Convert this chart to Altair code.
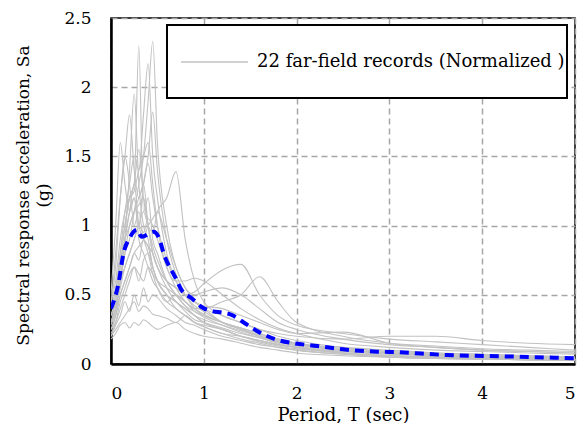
import altair as alt
import pandas as pd

# Periods (sec) at which the individual record spectra are read
periods = [0, 0.05, 0.1, 0.15, 0.2, 0.25, 0.3, 0.35, 0.4, 0.45, 0.5, 0.6, 0.7, 0.8,
           0.9, 1.0, 1.2, 1.4, 1.6, 1.8, 2.0, 2.5, 3.0, 3.5, 4.0, 4.5, 5.0]

r01 = [0.35,0.45,0.6,0.8,0.9,1.1,1.3,1.5,1.9,2.33,1.6,1.0,0.7,0.55,0.45,0.4,0.3,0.25,0.2,0.16,0.13,0.09,0.07,0.06,0.05,0.04,0.035]
r02 = [0.3,0.4,0.7,1.0,1.2,1.3,2.3,1.1,1.2,0.9,0.8,0.6,0.5,0.42,0.35,0.3,0.25,0.2,0.17,0.14,0.12,0.08,0.06,0.05,0.04,0.035,0.03]
r03 = [0.4,0.5,0.8,1.1,1.3,1.5,1.4,1.8,2.17,1.5,1.2,0.8,0.6,0.5,0.42,0.38,0.3,0.26,0.2,0.17,0.15,0.1,0.08,0.07,0.06,0.05,0.045]
r04 = [0.25,0.35,0.6,0.9,1.4,1.95,1.3,1.0,0.9,0.7,0.6,0.5,0.4,0.35,0.3,0.27,0.22,0.18,0.15,0.12,0.1,0.07,0.05,0.04,0.035,0.03,0.025]
r05 = [0.45,0.7,1.2,1.5,1.8,1.4,1.2,1.3,1.0,0.8,0.7,0.55,0.45,0.4,0.35,0.32,0.28,0.24,0.2,0.17,0.14,0.1,0.08,0.065,0.055,0.05,0.045]
r06 = [0.3,0.4,0.6,0.9,1.1,1.2,1.0,1.3,1.5,1.82,1.4,0.9,0.65,0.5,0.4,0.35,0.3,0.25,0.21,0.18,0.15,0.1,0.08,0.07,0.06,0.05,0.045]
r07 = [0.35,0.45,0.6,0.7,0.8,0.9,1.0,1.1,1.0,0.95,1.1,1.2,1.39,0.9,0.6,0.45,0.35,0.3,0.25,0.2,0.17,0.12,0.09,0.08,0.07,0.06,0.05]
r08 = [0.5,1.0,1.6,1.3,1.1,1.2,0.9,0.8,0.7,0.6,0.55,0.45,0.4,0.35,0.3,0.27,0.22,0.2,0.17,0.14,0.12,0.08,0.06,0.05,0.04,0.035,0.03]
r09 = [0.3,0.35,0.5,0.6,0.7,0.8,0.75,0.9,0.85,0.8,0.7,0.6,0.55,0.5,0.52,0.58,0.68,0.72,0.5,0.35,0.28,0.22,0.18,0.16,0.14,0.12,0.1]
r10 = [0.25,0.3,0.4,0.5,0.6,0.7,0.65,0.6,0.7,0.65,0.6,0.55,0.5,0.45,0.4,0.4,0.45,0.5,0.63,0.45,0.3,0.2,0.15,0.13,0.11,0.1,0.09]
r11 = [0.2,0.25,0.3,0.35,0.4,0.45,0.38,0.42,0.4,0.36,0.35,0.33,0.3,0.35,0.3,0.28,0.25,0.2,0.17,0.14,0.12,0.08,0.06,0.05,0.04,0.035,0.03]
r12 = [0.18,0.22,0.28,0.3,0.26,0.3,0.28,0.32,0.3,0.27,0.25,0.28,0.3,0.25,0.22,0.2,0.18,0.15,0.12,0.1,0.08,0.06,0.05,0.04,0.035,0.03,0.025]
r13 = [0.4,0.8,1.2,1.5,1.3,1.0,1.1,0.9,0.85,0.7,0.6,0.5,0.45,0.38,0.32,0.3,0.26,0.22,0.19,0.16,0.14,0.1,0.08,0.065,0.055,0.05,0.04]
r14 = [0.35,0.5,0.8,1.0,1.2,1.3,1.55,1.2,1.0,0.8,0.7,0.6,0.55,0.5,0.45,0.4,0.35,0.3,0.25,0.22,0.2,0.18,0.2,0.2,0.17,0.15,0.14]
r15 = [0.3,0.45,0.6,0.8,1.0,1.1,1.2,1.3,1.45,1.2,1.0,0.75,0.6,0.5,0.45,0.42,0.4,0.35,0.3,0.25,0.22,0.23,0.15,0.12,0.1,0.09,0.08]
r16 = [0.28,0.4,0.7,0.9,1.1,1.3,1.0,0.9,0.8,0.65,0.55,0.45,0.5,0.45,0.38,0.34,0.28,0.23,0.19,0.15,0.12,0.09,0.07,0.06,0.05,0.045,0.04]
r17 = [0.3,0.4,0.55,0.7,0.8,0.9,1.0,0.95,1.05,1.0,0.9,0.7,0.55,0.45,0.4,0.36,0.3,0.26,0.22,0.18,0.15,0.11,0.09,0.07,0.06,0.05,0.045]
r18 = [0.25,0.35,0.5,0.6,0.7,0.8,0.85,0.9,1.0,1.05,1.1,0.9,0.7,0.55,0.5,0.52,0.55,0.5,0.4,0.3,0.25,0.18,0.14,0.12,0.1,0.09,0.08]
r19 = [0.4,0.55,0.75,0.9,1.0,1.1,1.15,1.2,1.0,0.85,0.75,0.6,0.5,0.42,0.38,0.35,0.3,0.26,0.22,0.18,0.15,0.12,0.1,0.08,0.07,0.06,0.05]
r20 = [0.22,0.3,0.45,0.55,0.65,0.7,0.6,0.75,0.8,0.7,0.6,0.5,0.45,0.4,0.35,0.3,0.25,0.2,0.16,0.13,0.11,0.08,0.06,0.05,0.04,0.035,0.03]
r21 = [0.2,0.28,0.35,0.45,0.38,0.5,0.42,0.55,0.45,0.5,0.48,0.4,0.35,0.3,0.28,0.25,0.2,0.17,0.14,0.12,0.1,0.07,0.05,0.04,0.035,0.03,0.025]
r22 = [0.45,0.6,0.9,1.1,1.2,1.25,1.4,1.5,1.6,1.3,1.0,0.7,0.6,0.6,0.62,0.6,0.5,0.4,0.32,0.26,0.22,0.15,0.12,0.1,0.09,0.08,0.07]

records = [r01, r02, r03, r04, r05, r06, r07, r08, r09, r10, r11,
           r12, r13, r14, r15, r16, r17, r18, r19, r20, r21, r22]

# Mean (normalized) spectrum, blue dashed
mean_periods = [0, 0.08, 0.135, 0.2, 0.28, 0.33, 0.46, 0.51, 0.58, 0.69, 0.76, 0.87, 0.98,
                1.1, 1.2, 1.3, 1.43, 1.61, 1.79, 1.97, 2.22, 2.5, 2.87, 3.0, 3.62, 4.37, 5.0]
mean_sa = [0.40, 0.58, 0.80, 0.91, 0.97, 0.92, 0.955, 0.92, 0.775, 0.63, 0.535, 0.475, 0.41,
           0.38, 0.372, 0.355, 0.30, 0.225, 0.175, 0.15, 0.13, 0.106, 0.089, 0.087, 0.065, 0.053, 0.041]

legend_label = "22 far-field records (Normalized )"
x_ticks = [0, 1, 2, 3, 4, 5]
y_ticks = [0, 0.5, 1, 1.5, 2, 2.5]

rows = []
for i, rec in enumerate(records):
    for t, v in zip(periods, rec):
        rows.append({"record": f"R{i+1:02d}", "T": t, "Sa": v})
df = pd.DataFrame(rows)
mean_df = pd.DataFrame({"T": mean_periods, "Sa": mean_sa})

FONT = "DejaVu Serif"
W, H = 464, 346

x_enc = alt.X("T:Q", scale=alt.Scale(domain=[0, 5], nice=False),
              axis=alt.Axis(values=x_ticks, format="~g", title="Period, T (sec)",
                            titleFontSize=18, titleY=56, titleBaseline="alphabetic"))
y_enc = alt.Y("Sa:Q", scale=alt.Scale(domain=[0, 2.5], nice=False),
              axis=alt.Axis(values=y_ticks, format="~g",
                            title=["Spectral response acceleration, Sa", "(g)"],
                            titleFontSize=17, titleX=-96, titleY=177, titleBaseline="top",
                            titleLineHeight=20))

grey = alt.Chart(df).mark_line(color="#c2c2c2", strokeWidth=1.1, interpolate="monotone",
                               clip=True).encode(x=x_enc, y=y_enc, detail="record:N")

mean = alt.Chart(mean_df).mark_line(color="#0000ff", strokeWidth=4, strokeDash=[9, 6],
                                    interpolate="monotone", clip=True).encode(x="T:Q", y="Sa:Q")

legend_box = alt.Chart(pd.DataFrame({"a": [0]})).mark_rect(
    fill="white", stroke="black", strokeWidth=2
).encode(x=alt.value(56), x2=alt.value(456), y=alt.value(7), y2=alt.value(80))

legend_line = alt.Chart(pd.DataFrame({"a": [0]})).mark_rule(
    color="#c2c2c2", strokeWidth=1.3
).encode(x=alt.value(70), x2=alt.value(137), y=alt.value(44))

legend_text = alt.Chart(pd.DataFrame({"label": [legend_label]})).mark_text(
    align="left", baseline="middle", font=FONT, fontSize=18, color="black"
).encode(x=alt.value(146), y=alt.value(44), text="label:N")

chart = alt.layer(grey, mean, legend_box, legend_line, legend_text).properties(
    width=W, height=H,
    autosize=alt.AutoSizeParams(type="none"),
    padding={"left": 111, "top": 18, "right": 12, "bottom": 59},
    background="white",
).configure_view(
    stroke="black", strokeWidth=1.5
).configure_axis(
    labelFont=FONT, titleFont=FONT, labelFontSize=17,
    labelColor="black", titleColor="black", titleFontWeight="normal",
    ticks=False, domain=True, domainColor="black", domainWidth=2.5,
    grid=True, gridColor="#a6a6a6", gridDash=[6, 4], gridWidth=1.5,
).configure_axisX(
    labelPadding=21
).configure_axisY(
    labelPadding=20
)

chart.save("out.html", embed_options={"renderer": "svg", "actions": False})
